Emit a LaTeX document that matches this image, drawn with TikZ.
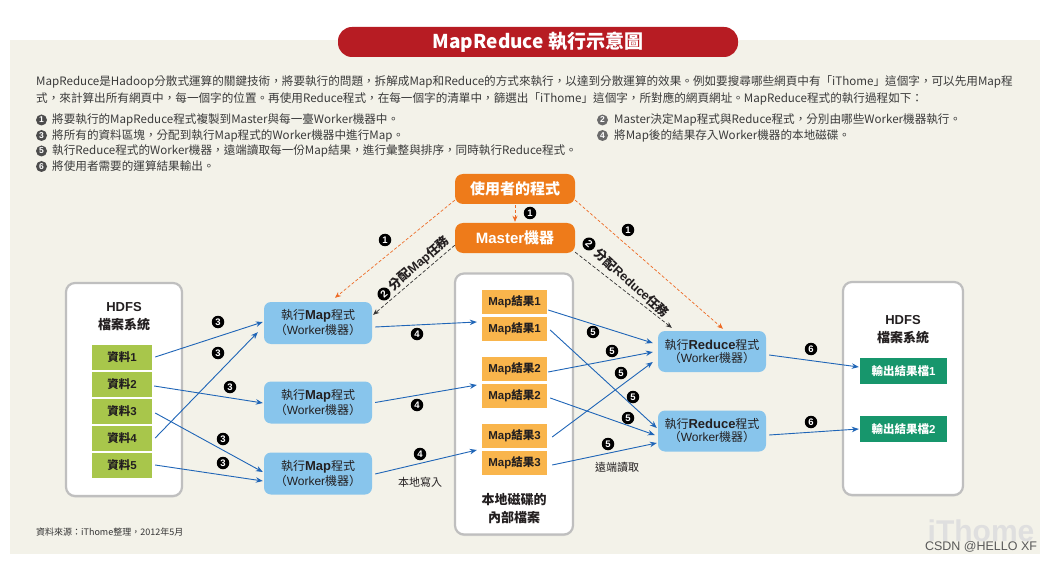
\documentclass[tikz,border=0pt]{standalone}
\usepackage{fontspec}
\setmainfont{Noto Sans CJK TC}
\newfontfamily\ar{Liberation Sans}
\usetikzlibrary{arrows.meta,calc,shadows}
\definecolor{beige}{HTML}{F3F2E9}
\definecolor{tred}{HTML}{B71C23}
\definecolor{uor}{HTML}{EE7B1A}
\definecolor{wblue}{HTML}{88C5EC}
\definecolor{dgreen}{HTML}{A8C64B}
\definecolor{mor}{HTML}{F9B54C}
\definecolor{oteal}{HTML}{17966C}
\definecolor{ablue}{HTML}{1F65B7}
\definecolor{dor}{HTML}{EE6A24}
\definecolor{txt}{HTML}{231F20}
\definecolor{ptxt}{HTML}{3A3A3A}
\newcommand\fsz[1]{\fontsize{#1}{#1}\selectfont}
\begin{document}
\begin{tikzpicture}[x=1pt,y=-1pt,
  every node/.style={text=txt},
  panel/.style={draw=gray!50, line width=2.2pt, fill=white, rounded corners=9pt,
     drop shadow={shadow xshift=0pt, shadow yshift=-1.5pt, fill=gray!45}},
  obox/.style={fill=uor, rounded corners=8pt, minimum width=120pt, minimum height=30pt,
     inner sep=0pt, text=white, font=\bfseries\fsz{15}},
  worker/.style={fill=wblue, rounded corners=7pt, minimum width=108pt, minimum height=42pt,
     inner sep=0pt, align=center, font=\fsz{12}},
  databox/.style={fill=dgreen, minimum width=60pt, minimum height=25pt, inner sep=0pt,
     font=\bfseries\fsz{11.5}},
  mres/.style={fill=mor, minimum width=65pt, minimum height=24pt, inner sep=0pt,
     font=\bfseries\fsz{11.5}},
  outf/.style={fill=oteal, minimum width=87pt, minimum height=26pt, inner sep=0pt,
     text=white, font=\bfseries\fsz{11.5}},
  num/.style={circle, fill=black, text=white, inner sep=0pt, minimum size=12.5pt,
     font=\ar\bfseries\fsz{9.5}},
  lnum/.style={circle, fill=black!70, text=white, inner sep=0pt, minimum size=11pt,
     font=\ar\bfseries\fsz{8.5}},
  barrow/.style={draw=ablue, line width=0.9pt, -{Stealth[length=7pt,width=5.5pt]}},
  odash/.style={draw=dor, line width=0.7pt, dash pattern=on 3pt off 2pt,
     -{Stealth[length=6pt,width=5pt]}},
  kdash/.style={draw=black!80, line width=0.7pt, dash pattern=on 3.5pt off 2pt,
     -{Stealth[length=6pt,width=5pt]}},
  para/.style={anchor=west, text=ptxt, font=\fsz{11.6}, inner sep=0pt},
  lbl/.style={font=\bfseries\fsz{13}, inner sep=0pt},
  small/.style={font=\fsz{11}, inner sep=0pt},
  rlbl/.style={font=\bfseries\fsz{12.5}, inner sep=0pt}
]
\useasboundingbox (0,0) rectangle (1051,561);
\fill[white] (0,0) rectangle (1051,561);
\fill[beige] (10,40) rectangle (1040,554);

% title
\node[fill=tred, rounded corners=14pt, minimum width=400pt, minimum height=30pt,
  inner sep=0pt, text=white, font=\bfseries\fsz{19}] (title) at (538,42) {MapReduce 執行示意圖};

% paragraph
\node[para] (p1) at (36,82) {MapReduce是Hadoop分散式運算的關鍵技術，將要執行的問題，拆解成Map和Reduce的方式來執行，以達到分散運算的效果。例如要搜尋哪些網頁中有「iThome」這個字，可以先用Map程};
\node[para] (p2) at (36,99) {式，來計算出所有網頁中，每一個字的位置。再使用Reduce程式，在每一個字的清單中，篩選出「iThome」這個字，所對應的網頁網址。MapReduce程式的執行過程如下：};

% list
\node[lnum] (lc1) at (41.5,120) {1};
\node[lnum] (lc3) at (41.5,135.5) {3};
\node[lnum] (lc5) at (41.5,151) {5};
\node[lnum] (lc6) at (41.5,166.5) {6};
\node[lnum, fill=black!58] (lc2) at (602.5,120) {2};
\node[lnum, fill=black!58] (lc4) at (602.5,135.5) {4};
\node[para] (li1) at (52,120) {將要執行的MapReduce程式複製到Master與每一臺Worker機器中。};
\node[para] (li3) at (52,135.5) {將所有的資料區塊，分配到執行Map程式的Worker機器中進行Map。};
\node[para] (li5) at (52,151) {執行Reduce程式的Worker機器，遠端讀取每一份Map結果，進行彙整與排序，同時執行Reduce程式。};
\node[para] (li6) at (52,166.5) {將使用者需要的運算結果輸出。};
\node[para] (li2) at (614,120) {Master決定Map程式與Reduce程式，分別由哪些Worker機器執行。};
\node[para] (li4) at (614,135.5) {將Map後的結果存入Worker機器的本地磁碟。};

% panels
\node[panel, minimum width=116pt, minimum height=213pt] (hdfsL) at (124,389.5) {};
\node[panel, minimum width=118pt, minimum height=261pt] (disk) at (514,404) {};
\node[panel, minimum width=120pt, minimum height=213pt] (hdfsR) at (903,388.5) {};

\node[lbl] (hlA) at (124,307) {\ar\bfseries HDFS};
\node[lbl] (hlB) at (124,325) {檔案系統};
\node[lbl] (hrA) at (903,320) {\ar\bfseries HDFS};
\node[lbl] (hrB) at (903,338) {檔案系統};
\node[lbl] (dkA) at (514,500) {本地磁碟的};
\node[lbl] (dkB) at (514,518) {內部檔案};

% user / master
\node[obox] (user) at (515,189) {使用者的程式};
\node[obox] (master) at (515,238) {{\ar\bfseries Master}機器};

% data blocks
\node[databox] (d1) at (122,357) {資料{\ar\bfseries 1}};
\node[databox] (d2) at (122,384) {資料{\ar\bfseries 2}};
\node[databox] (d3) at (122,411) {資料{\ar\bfseries 3}};
\node[databox] (d4) at (122,438) {資料{\ar\bfseries 4}};
\node[databox] (d5) at (122,465) {資料{\ar\bfseries 5}};

% map workers
\node[worker] (m1) at (318,323) {執行{\ar\bfseries\fsz{13}Map}程式\\[1pt]（{\ar Worker}機器）};
\node[worker] (m2) at (318,402.5) {執行{\ar\bfseries\fsz{13}Map}程式\\[1pt]（{\ar Worker}機器）};
\node[worker] (m3) at (318,473.5) {執行{\ar\bfseries\fsz{13}Map}程式\\[1pt]（{\ar Worker}機器）};

% map results
\node[mres] (r1a) at (514.5,302) {{\ar\bfseries Map}結果{\ar\bfseries 1}};
\node[mres] (r1b) at (514.5,329) {{\ar\bfseries Map}結果{\ar\bfseries 1}};
\node[mres] (r2a) at (514.5,369) {{\ar\bfseries Map}結果{\ar\bfseries 2}};
\node[mres] (r2b) at (514.5,396) {{\ar\bfseries Map}結果{\ar\bfseries 2}};
\node[mres] (r3a) at (514.5,436) {{\ar\bfseries Map}結果{\ar\bfseries 3}};
\node[mres] (r3b) at (514.5,463) {{\ar\bfseries Map}結果{\ar\bfseries 3}};

% reduce workers
\node[worker, minimum height=41pt] (rw1) at (712,351.5) {執行{\ar\bfseries\fsz{13}Reduce}程式\\[1pt]（{\ar Worker}機器）};
\node[worker, minimum height=41pt] (rw2) at (712,431) {執行{\ar\bfseries\fsz{13}Reduce}程式\\[1pt]（{\ar Worker}機器）};

% output files
\node[outf] (o1) at (903.5,371) {輸出結果檔{\ar\bfseries 1}};
\node[outf] (o2) at (903.5,429) {輸出結果檔{\ar\bfseries 2}};

% dashed arrows from top
\draw[odash] ($(user.south)+(0,1)$) -- ($(master.north)+(0,-1)$);
\draw[odash] ($(user.south west)+(0,-4)$) -- ($(m1.north)+(17,-4)$);
\draw[odash] ($(user.south east)+(0,-4)$) -- ($(rw1.north)+(11,-2)$);
\draw[kdash] ($(master.south west)+(0,-8)$) -- ($(m1.north east)+(1,13)$);
\draw[kdash] ($(master.south east)+(0,-1)$) -- ($(rw1.north west)+(14,-3)$);

\node[num] (n1a) at (530,213) {1};
\node[num] (n1b) at (385,240) {1};
\node[num] (n1c) at (628,230) {1};

\node[num, minimum size=13pt, font=\ar\bfseries\fsz{10}, rotate=41] (n2a) at (384,294) {2};
\node[rlbl, rotate=41] (lm) at (419,263.5) {分配{\ar\bfseries Map}任務};
\node[num, minimum size=13pt, font=\ar\bfseries\fsz{10}, rotate=-42] (n2b) at (589,244) {2};
\node[rlbl, rotate=-42] (lr) at (632,283) {分配{\ar\bfseries Reduce}任務};

% data -> map
\draw[barrow] ($(d1.east)+(3,0)$) -- ($(m1.west)+(-1,-1)$);
\draw[barrow] ($(d4.east)+(3,0)$) -- ($(m1.south west)+(-6,-12)$);
\draw[barrow] ($(d2.east)+(2,2)$) -- ($(m2.west)+(-1,0.5)$);
\draw[barrow] ($(d3.east)+(3,2)$) -- ($(m3.west)+(-1,-1.5)$);
\draw[barrow] ($(d5.east)+(3,0)$) -- ($(m3.west)+(-1,7.5)$);

\node[num] (n3a) at (218,322) {3};
\node[num] (n3b) at (218,353) {3};
\node[num] (n3c) at (230,387) {3};
\node[num] (n3d) at (223,439) {3};
\node[num] (n3e) at (223,463) {3};

% map -> results
\draw[barrow] ($(m1.east)+(3,4)$) -- ($(r1b.west)+(-5,-7)$);
\draw[barrow] ($(m2.east)+(3,0)$) -- ($(r2b.west)+(-5,-11)$);
\draw[barrow] ($(m3.east)+(3,0.5)$) -- ($(r3b.west)+(-5,-13)$);

\node[num] (n4a) at (417,334) {4};
\node[num] (n4b) at (417,405) {4};
\node[num] (n4c) at (420,454) {4};
\node[small] (bw) at (420,482) {本地寫入};

% results -> reduce
\draw[barrow] ($(r1a.east)+(1,8)$) -- ($(rw1.west)+(-5,-8.5)$);
\draw[barrow] ($(r1b.east)+(3,1)$) -- ($(rw2.west)+(-1,-3)$);
\draw[barrow] ($(r2a.east)+(1,3)$) -- ($(rw1.west)+(-5,0.5)$);
\draw[barrow] ($(r2b.east)+(3,2)$) -- ($(rw2.west)+(-3,4)$);
\draw[barrow] ($(r3a.east)+(5,1)$) -- ($(rw1.west)+(-5,10.5)$);
\draw[barrow] ($(r3b.east)+(5,2)$) -- ($(rw2.west)+(-1,12)$);

\node[num] (n5a) at (593,332) {5};
\node[num] (n5b) at (612,351) {5};
\node[num] (n5c) at (621,373) {5};
\node[num] (n5d) at (633,397) {5};
\node[num] (n5e) at (628,418) {5};
\node[num] (n5f) at (608,444) {5};
\node[small] (rr) at (617,467) {遠端讀取};

% reduce -> output
\draw[barrow] ($(rw1.east)+(3,3.5)$) -- ($(o1.west)+(-1,-4)$);
\draw[barrow] ($(rw2.east)+(3,4)$) -- ($(o2.west)+(-1,0)$);

\node[num] (n6a) at (811,349) {6};
\node[num] (n6b) at (811,422) {6};

% footnote
\node[anchor=west, inner sep=0pt, font=\fsz{9}, text=black!80] (src) at (36,532) {資料來源：iThome整理，2012年5月};

% watermark
\node[inner sep=0pt, font=\ar\bfseries\fsz{30}, text=gray!25] (wm) at (981,531) {iThome};
\node[inner sep=0pt, font=\ar\fsz{12.5}, text=black!65] (csdn) at (981,547) {CSDN @HELLO XF};
\end{tikzpicture}
\end{document}
